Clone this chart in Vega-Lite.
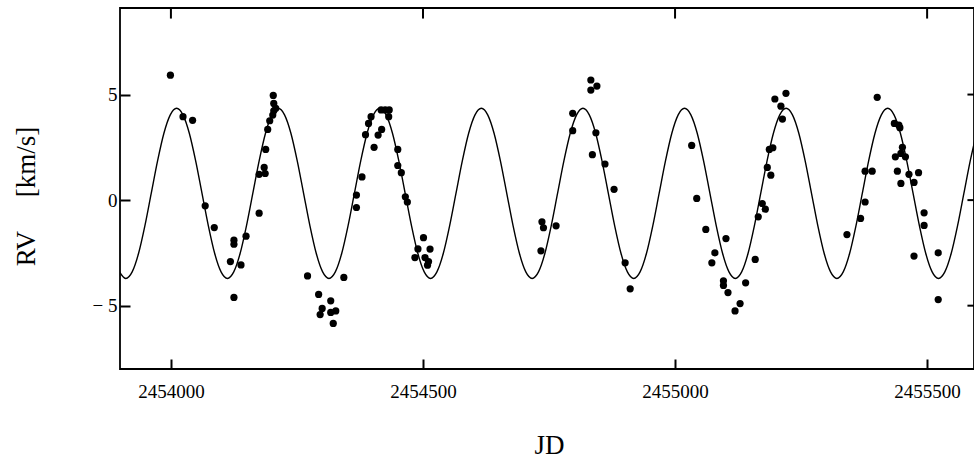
{
  "$schema": "https://vega.github.io/schema/vega-lite/v6.json",
  "autosize": {"type": "none"},
  "padding": {"left": 120, "top": 8, "right": 0, "bottom": 95},
  "width": 854,
  "height": 361,
  "background": "white",
  "config": {
    "view": {"stroke": "#000", "strokeWidth": 1.8},
    "axis": {"grid": false, "domain": false, "labelColor": "#000", "titleColor": "#000", "labelFont": "Liberation Serif", "titleFont": "Liberation Serif", "titleFontWeight": "normal"}
  },
  "datasets": {
    "curve": [
      {"jd": 2453897.96, "rv": -3.40}, {"jd": 2453910.55, "rv": -3.71}, {"jd": 2453923.14, "rv": -3.40}, {"jd": 2453935.74, "rv": -2.53}, {"jd": 2453948.33, "rv": -1.22}, {"jd": 2453960.93, "rv": 0.32}, {"jd": 2453973.52, "rv": 1.86}, {"jd": 2453986.11, "rv": 3.17}, {"jd": 2453998.71, "rv": 4.04},
      {"jd": 2454011.3, "rv": 4.35}, {"jd": 2454023.89, "rv": 4.04}, {"jd": 2454036.49, "rv": 3.17}, {"jd": 2454049.08, "rv": 1.86}, {"jd": 2454061.68, "rv": 0.32}, {"jd": 2454074.27, "rv": -1.22}, {"jd": 2454086.86, "rv": -2.53}, {"jd": 2454099.46, "rv": -3.40}, {"jd": 2454112.05, "rv": -3.71}, {"jd": 2454124.64, "rv": -3.40}, {"jd": 2454137.24, "rv": -2.53}, {"jd": 2454149.83, "rv": -1.22}, {"jd": 2454162.43, "rv": 0.32}, {"jd": 2454175.02, "rv": 1.86}, {"jd": 2454187.61, "rv": 3.17}, {"jd": 2454200.21, "rv": 4.04},
      {"jd": 2454212.8, "rv": 4.35}, {"jd": 2454225.39, "rv": 4.04}, {"jd": 2454237.99, "rv": 3.17}, {"jd": 2454250.58, "rv": 1.86}, {"jd": 2454263.18, "rv": 0.32}, {"jd": 2454275.77, "rv": -1.22}, {"jd": 2454288.36, "rv": -2.53}, {"jd": 2454300.96, "rv": -3.40}, {"jd": 2454313.55, "rv": -3.71}, {"jd": 2454326.14, "rv": -3.40}, {"jd": 2454338.74, "rv": -2.53}, {"jd": 2454351.33, "rv": -1.22}, {"jd": 2454363.93, "rv": 0.32}, {"jd": 2454376.52, "rv": 1.86}, {"jd": 2454389.11, "rv": 3.17}, {"jd": 2454401.71, "rv": 4.04},
      {"jd": 2454414.3, "rv": 4.35}, {"jd": 2454426.89, "rv": 4.04}, {"jd": 2454439.49, "rv": 3.17}, {"jd": 2454452.08, "rv": 1.86}, {"jd": 2454464.68, "rv": 0.32}, {"jd": 2454477.27, "rv": -1.22}, {"jd": 2454489.86, "rv": -2.53}, {"jd": 2454502.46, "rv": -3.40}, {"jd": 2454515.05, "rv": -3.71}, {"jd": 2454527.64, "rv": -3.40}, {"jd": 2454540.24, "rv": -2.53}, {"jd": 2454552.83, "rv": -1.22}, {"jd": 2454565.43, "rv": 0.32}, {"jd": 2454578.02, "rv": 1.86}, {"jd": 2454590.61, "rv": 3.17}, {"jd": 2454603.21, "rv": 4.04},
      {"jd": 2454615.8, "rv": 4.35}, {"jd": 2454628.39, "rv": 4.04}, {"jd": 2454640.99, "rv": 3.17}, {"jd": 2454653.58, "rv": 1.86}, {"jd": 2454666.18, "rv": 0.32}, {"jd": 2454678.77, "rv": -1.22}, {"jd": 2454691.36, "rv": -2.53}, {"jd": 2454703.96, "rv": -3.40}, {"jd": 2454716.55, "rv": -3.71}, {"jd": 2454729.14, "rv": -3.40}, {"jd": 2454741.74, "rv": -2.53}, {"jd": 2454754.33, "rv": -1.22}, {"jd": 2454766.93, "rv": 0.32}, {"jd": 2454779.52, "rv": 1.86}, {"jd": 2454792.11, "rv": 3.17}, {"jd": 2454804.71, "rv": 4.04},
      {"jd": 2454817.3, "rv": 4.35}, {"jd": 2454829.89, "rv": 4.04}, {"jd": 2454842.49, "rv": 3.17}, {"jd": 2454855.08, "rv": 1.86}, {"jd": 2454867.68, "rv": 0.32}, {"jd": 2454880.27, "rv": -1.22}, {"jd": 2454892.86, "rv": -2.53}, {"jd": 2454905.46, "rv": -3.40}, {"jd": 2454918.05, "rv": -3.71}, {"jd": 2454930.64, "rv": -3.40}, {"jd": 2454943.24, "rv": -2.53}, {"jd": 2454955.83, "rv": -1.22}, {"jd": 2454968.43, "rv": 0.32}, {"jd": 2454981.02, "rv": 1.86}, {"jd": 2454993.61, "rv": 3.17}, {"jd": 2455006.21, "rv": 4.04},
      {"jd": 2455018.8, "rv": 4.35}, {"jd": 2455031.39, "rv": 4.04}, {"jd": 2455043.99, "rv": 3.17}, {"jd": 2455056.58, "rv": 1.86}, {"jd": 2455069.18, "rv": 0.32}, {"jd": 2455081.77, "rv": -1.22}, {"jd": 2455094.36, "rv": -2.53}, {"jd": 2455106.96, "rv": -3.40}, {"jd": 2455119.55, "rv": -3.71}, {"jd": 2455132.14, "rv": -3.40}, {"jd": 2455144.74, "rv": -2.53}, {"jd": 2455157.33, "rv": -1.22}, {"jd": 2455169.93, "rv": 0.32}, {"jd": 2455182.52, "rv": 1.86}, {"jd": 2455195.11, "rv": 3.17}, {"jd": 2455207.71, "rv": 4.04},
      {"jd": 2455220.3, "rv": 4.35}, {"jd": 2455232.89, "rv": 4.04}, {"jd": 2455245.49, "rv": 3.17}, {"jd": 2455258.08, "rv": 1.86}, {"jd": 2455270.68, "rv": 0.32}, {"jd": 2455283.27, "rv": -1.22}, {"jd": 2455295.86, "rv": -2.53}, {"jd": 2455308.46, "rv": -3.40}, {"jd": 2455321.05, "rv": -3.71}, {"jd": 2455333.64, "rv": -3.40}, {"jd": 2455346.24, "rv": -2.53}, {"jd": 2455358.83, "rv": -1.22}, {"jd": 2455371.43, "rv": 0.32}, {"jd": 2455384.02, "rv": 1.86}, {"jd": 2455396.61, "rv": 3.17}, {"jd": 2455409.21, "rv": 4.04},
      {"jd": 2455421.8, "rv": 4.35}, {"jd": 2455434.39, "rv": 4.04}, {"jd": 2455446.99, "rv": 3.17}, {"jd": 2455459.58, "rv": 1.86}, {"jd": 2455472.18, "rv": 0.32}, {"jd": 2455484.77, "rv": -1.22}, {"jd": 2455497.36, "rv": -2.53}, {"jd": 2455509.96, "rv": -3.40}, {"jd": 2455522.55, "rv": -3.71}, {"jd": 2455535.14, "rv": -3.40}, {"jd": 2455547.74, "rv": -2.53}, {"jd": 2455560.33, "rv": -1.22}, {"jd": 2455572.93, "rv": 0.32}, {"jd": 2455585.52, "rv": 1.86}, {"jd": 2455598.11, "rv": 3.17}
    ],
    "obs": [
      {"jd": 2453999, "rv": 5.92}, {"jd": 2454024, "rv": 3.95}, {"jd": 2454043, "rv": 3.78}, {"jd": 2454068, "rv": -0.27}, {"jd": 2454086, "rv": -1.30},
      {"jd": 2454125, "rv": -1.90}, {"jd": 2454125, "rv": -2.09}, {"jd": 2454118, "rv": -2.91}, {"jd": 2454125, "rv": -4.61}, {"jd": 2454139, "rv": -3.07},
      {"jd": 2454149, "rv": -1.71}, {"jd": 2454175, "rv": -0.62}, {"jd": 2454175, "rv": 1.22}, {"jd": 2454185, "rv": 1.55}, {"jd": 2454187, "rv": 1.26},
      {"jd": 2454188, "rv": 2.40}, {"jd": 2454192, "rv": 3.35}, {"jd": 2454196, "rv": 3.76}, {"jd": 2454202, "rv": 4.03}, {"jd": 2454204, "rv": 4.23},
      {"jd": 2454204, "rv": 4.58}, {"jd": 2454203, "rv": 4.96}, {"jd": 2454208, "rv": 4.35}, {"jd": 2454271, "rv": -3.59}, {"jd": 2454293, "rv": -4.47},
      {"jd": 2454300, "rv": -5.13}, {"jd": 2454296, "rv": -5.42}, {"jd": 2454317, "rv": -4.77}, {"jd": 2454317, "rv": -5.32}, {"jd": 2454327, "rv": -5.25},
      {"jd": 2454322, "rv": -5.84}, {"jd": 2454343, "rv": -3.66}, {"jd": 2454368, "rv": -0.35}, {"jd": 2454368, "rv": 0.24}, {"jd": 2454379, "rv": 1.10},
      {"jd": 2454386, "rv": 3.10}, {"jd": 2454392, "rv": 3.63}, {"jd": 2454397, "rv": 3.95}, {"jd": 2454403, "rv": 2.50}, {"jd": 2454411, "rv": 3.08},
      {"jd": 2454418, "rv": 3.35}, {"jd": 2454417, "rv": 4.27}, {"jd": 2454425, "rv": 4.27}, {"jd": 2454433, "rv": 4.27}, {"jd": 2454432, "rv": 3.95},
      {"jd": 2454450, "rv": 2.40}, {"jd": 2454450, "rv": 1.64}, {"jd": 2454457, "rv": 1.30}, {"jd": 2454465, "rv": 0.16}, {"jd": 2454469, "rv": -0.09},
      {"jd": 2454501, "rv": -1.78}, {"jd": 2454490, "rv": -2.31}, {"jd": 2454514, "rv": -2.32}, {"jd": 2454484, "rv": -2.72}, {"jd": 2454504, "rv": -2.72},
      {"jd": 2454511, "rv": -2.91}, {"jd": 2454509, "rv": -3.08}, {"jd": 2454736, "rv": -1.03}, {"jd": 2454739, "rv": -1.31}, {"jd": 2454734, "rv": -2.40},
      {"jd": 2454764, "rv": -1.22}, {"jd": 2454797, "rv": 4.11}, {"jd": 2454797, "rv": 3.29}, {"jd": 2454833, "rv": 5.69}, {"jd": 2454845, "rv": 5.40},
      {"jd": 2454833, "rv": 5.21}, {"jd": 2454843, "rv": 3.19}, {"jd": 2454836, "rv": 2.15}, {"jd": 2454861, "rv": 1.71}, {"jd": 2454879, "rv": 0.51},
      {"jd": 2454901, "rv": -2.97}, {"jd": 2454911, "rv": -4.20}, {"jd": 2455033, "rv": 2.59}, {"jd": 2455043, "rv": 0.08}, {"jd": 2455061, "rv": -1.39},
      {"jd": 2455101, "rv": -1.82}, {"jd": 2455079, "rv": -2.50}, {"jd": 2455073, "rv": -2.97}, {"jd": 2455096, "rv": -3.82}, {"jd": 2455096, "rv": -4.04},
      {"jd": 2455105, "rv": -4.38}, {"jd": 2455129, "rv": -4.90}, {"jd": 2455119, "rv": -5.25}, {"jd": 2455140, "rv": -3.92}, {"jd": 2455159, "rv": -2.81},
      {"jd": 2455165, "rv": -0.79}, {"jd": 2455173, "rv": -0.16}, {"jd": 2455179, "rv": -0.43}, {"jd": 2455183, "rv": 1.55}, {"jd": 2455190, "rv": 1.18},
      {"jd": 2455187, "rv": 2.40}, {"jd": 2455194, "rv": 2.48}, {"jd": 2455198, "rv": 4.79}, {"jd": 2455210, "rv": 4.45}, {"jd": 2455213, "rv": 3.84},
      {"jd": 2455220, "rv": 5.06}, {"jd": 2455341, "rv": -1.63}, {"jd": 2455368, "rv": -0.87}, {"jd": 2455377, "rv": -0.09}, {"jd": 2455377, "rv": 1.37},
      {"jd": 2455391, "rv": 1.37}, {"jd": 2455401, "rv": 4.87}, {"jd": 2455435, "rv": 3.63}, {"jd": 2455444, "rv": 3.55}, {"jd": 2455446, "rv": 3.43},
      {"jd": 2455451, "rv": 2.50}, {"jd": 2455448, "rv": 2.21}, {"jd": 2455437, "rv": 2.05}, {"jd": 2455457, "rv": 2.05}, {"jd": 2455441, "rv": 1.37},
      {"jd": 2455448, "rv": 0.79}, {"jd": 2455464, "rv": 1.22}, {"jd": 2455474, "rv": 0.84}, {"jd": 2455483, "rv": 1.30}, {"jd": 2455494, "rv": -0.60},
      {"jd": 2455494, "rv": -1.20}, {"jd": 2455474, "rv": -2.65}, {"jd": 2455522, "rv": -2.50}, {"jd": 2455522, "rv": -4.71}
    ],
    "xticks": [{"jd": 2454000}, {"jd": 2454500}, {"jd": 2455000}, {"jd": 2455500}],
    "yticks": [{"rv": -5}, {"rv": 0}, {"rv": 5}]
  },
  "layer": [
    {
      "data": {"name": "curve"},
      "mark": {"type": "line", "color": "#000", "strokeWidth": 1.4, "clip": true, "interpolate": "monotone"},
      "encoding": {
        "x": {"field": "jd", "type": "quantitative", "title": "JD", "scale": {"domain": [2453899, 2455593], "nice": false, "zero": false},
          "axis": {"orient": "bottom", "offset": -10, "values": [2454000, 2454500, 2455000, 2455500], "format": "d", "ticks": true, "tickSize": 10, "tickColor": "#000", "tickWidth": 2, "labelPadding": 13, "labelFontSize": 19,
            "titleFontSize": 27, "titleX": 429, "titleY": 94, "titleBaseline": "alphabetic", "titleAlign": "center"}},
        "y": {"field": "rv", "type": "quantitative", "title": "RV\u00a0\u00a0\u00a0\u00a0\u00a0[km/s]", "scale": {"domain": [-8.0, 9.1], "nice": false, "zero": false},
          "axis": {"orient": "left", "offset": -10, "values": [-5, 0, 5], "ticks": true, "tickSize": 10, "tickColor": "#000", "tickWidth": 2, "labelPadding": 3, "labelFontSize": 19,
            "labelExpr": "datum.value < 0 ? '− ' + abs(datum.value) : datum.label",
            "titleFontSize": 27, "titleX": -104, "titleY": 188, "titleAngle": -90, "titleBaseline": "middle", "titleAlign": "center"}}
      }
    },
    {
      "data": {"name": "obs"},
      "mark": {"type": "point", "filled": true, "color": "#000", "opacity": 1, "size": 52, "shape": "circle"},
      "encoding": {
        "x": {"field": "jd", "type": "quantitative", "title": "JD"},
        "y": {"field": "rv", "type": "quantitative", "title": "RV\u00a0\u00a0\u00a0\u00a0\u00a0[km/s]"}
      }
    },
    {
      "data": {"name": "xticks"},
      "mark": {"type": "rule", "color": "#000", "strokeWidth": 2},
      "encoding": {
        "x": {"field": "jd", "type": "quantitative", "title": "JD"},
        "y": {"datum": 9.1, "type": "quantitative"},
        "y2": {"datum": 8.6}
      }
    },
    {
      "data": {"name": "yticks"},
      "mark": {"type": "rule", "color": "#000", "strokeWidth": 2},
      "encoding": {
        "y": {"field": "rv", "type": "quantitative", "title": "RV\u00a0\u00a0\u00a0\u00a0\u00a0[km/s]"},
        "x": {"datum": 2455593, "type": "quantitative"},
        "x2": {"datum": 2455580}
      }
    }
  ]
}
